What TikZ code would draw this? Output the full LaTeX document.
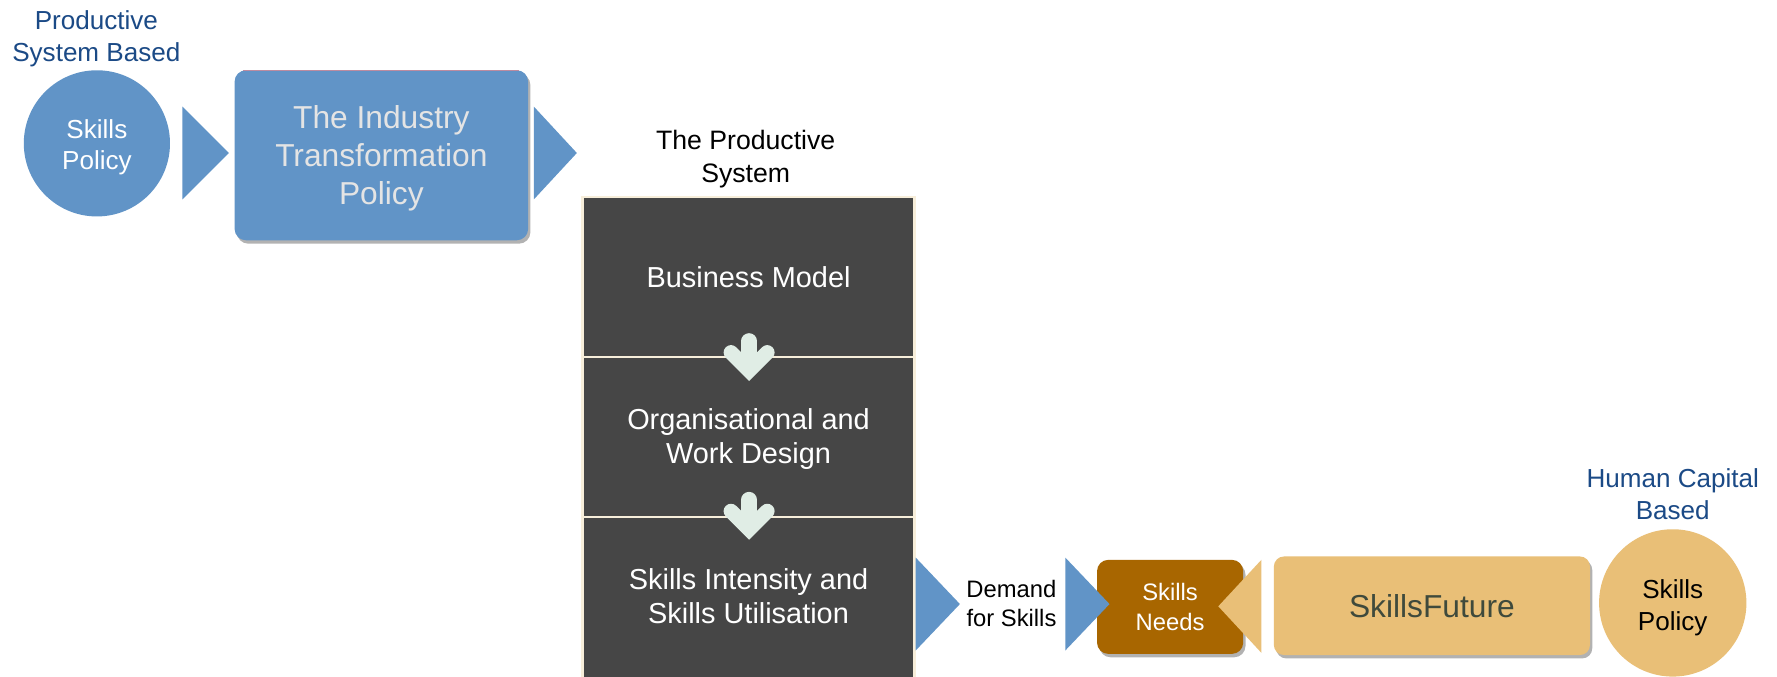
\documentclass[tikz,border=0pt]{standalone}
\usepackage{fontspec}
\setmainfont{Liberation Sans}
\usetikzlibrary{shadows}
\definecolor{pblue}{HTML}{6194C7}
\definecolor{dblue}{HTML}{1B4A86}
\definecolor{darkcol}{HTML}{464646}
\definecolor{creamline}{HTML}{F7EEDA}
\definecolor{mintarrow}{HTML}{E0EDE5}
\definecolor{brownbox}{HTML}{A86600}
\definecolor{tanbox}{HTML}{E9BF77}
\definecolor{sfgray}{HTML}{3F4A3C}
\definecolor{ltgray}{HTML}{E4E4E4}
\tikzset{
  circnode/.style={circle, minimum size=#1, inner sep=0pt, align=center},
  lbl/.style={align=center, inner sep=0pt},
  colbox/.style={rectangle, fill=darkcol, draw=creamline, line width=2pt, minimum width=293pt, inner sep=0pt},
  rbox/.style={rectangle, rounded corners=#1, inner sep=0pt, align=center},
  shade3/.style={drop shadow={shadow xshift=2pt, shadow yshift=-3pt, opacity=0.3, fill=black}},
  downarr/.pic={
    \draw[mintarrow, line width=14pt, line cap=round] (0,7) -- (0,28);
    \draw[mintarrow, line width=13pt, line cap=round, line join=miter] (-16,17) -- (0,33) -- (16,17);
  }
}
\begin{document}
\begin{tikzpicture}[x=1pt,y=-1pt]
\useasboundingbox (0,0) rectangle (1568,596.5);
\fill[white] (0,0) rectangle (1568,596.5);

% left side
\node[lbl, text=dblue, font=\fontsize{23}{28}\selectfont] (psb) at (85,34) {Productive\\System Based};
\node[circnode=129pt, fill=pblue, text=white, font=\fontsize{23}{28}\selectfont] (sp1) at (85.5,126.5) {};
\node[lbl, text=white, font=\fontsize{23}{28}\selectfont] (sp1t) at (85.5,130) {Skills\\Policy};
\fill[pblue] (161,94) -- (202,135) -- (161,176) -- cycle;
\node[rbox=10pt, fill=pblue, minimum width=259pt, minimum height=150pt, shade3] (itp) at (336.5,137) {};
\node[lbl, text=ltgray, font=\fontsize{28}{33.5}\selectfont] (itpt) at (336.5,139.5) {The Industry\\Transformation\\Policy};
\draw[color=pblue!60!red!70!white, line width=0.8pt] ([xshift=8pt]itp.north west) -- ([xshift=-8pt]itp.north east);
\fill[pblue] (471,94) -- (509,135) -- (471,176) -- cycle;

% productive system column
\node[lbl, text=black, font=\fontsize{23.5}{29}\selectfont] (tps) at (658,140.5) {The Productive\\System};
\node[colbox, minimum height=141pt] (bm) at (660.5,244.5) {};
\node[colbox, minimum height=141pt] (owd) at (660.5,385.5) {};
\node[colbox, minimum height=154pt] (si) at (660.5,533) {};
\node[lbl, text=white, font=\fontsize{25.5}{30}\selectfont] (bmt) at (bm.center) {Business Model};
\node[lbl, text=white, font=\fontsize{25.5}{30}\selectfont] (owdt) at (660.5,387.5) {Organisational and\\Work Design};
\node[lbl, text=white, font=\fontsize{25.5}{30}\selectfont] (sit) at (660.5,526) {Skills Intensity and\\Skills Utilisation};
\pic at (661,294) {downarr};
\pic at (661,434) {downarr};

% demand side
\fill[pblue] (808,492) -- (847,533) -- (808,574) -- cycle;
\node[lbl, text=black, font=\fontsize{21}{25.5}\selectfont] (dfs) at (892.5,532.5) {Demand\\for Skills};
\node[rbox=10pt, fill=brownbox, minimum width=129pt, minimum height=83pt, shade3, text=white, font=\fontsize{21}{26.5}\selectfont] (sn) at (1032.5,535.5) {Skills\\Needs};
\fill[pblue] (940,492) -- (979,533) -- (940,574) -- cycle;
\fill[tanbox] (1113,494) -- (1075,535) -- (1113,576) -- cycle;
\node[rbox=9pt, fill=tanbox, minimum width=279pt, minimum height=87pt, shade3, text=sfgray, font=\fontsize{28}{33}\selectfont] (sf) at (1263.5,534.5) {SkillsFuture};

% right side
\node[lbl, text=dblue, font=\fontsize{23}{28}\selectfont] (hcb) at (1476,436) {Human Capital\\Based};
\node[circnode=130pt, fill=tanbox] (sp2) at (1476,532) {};
\node[lbl, text=black, font=\fontsize{23}{28}\selectfont] (sp2t) at (1476,536) {Skills\\Policy};
\end{tikzpicture}
\end{document}
